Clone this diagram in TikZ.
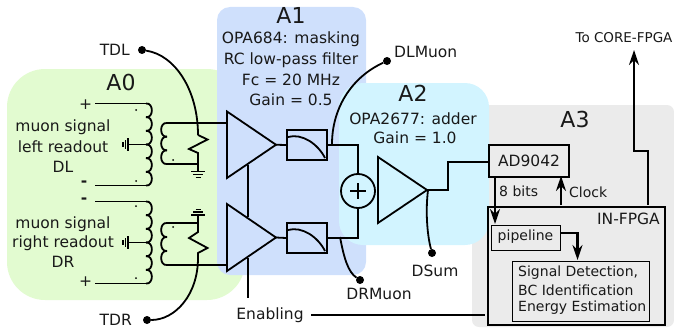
\documentclass[tikz,border=0pt]{standalone}
\usepackage{fontspec}
\setmainfont{DejaVu Sans}
\usetikzlibrary{arrows.meta}
\definecolor{zoneA}{HTML}{E2FBD0}
\definecolor{zoneB}{HTML}{CFE0FC}
\definecolor{zoneC}{HTML}{D2F4FF}
\definecolor{zoneD}{HTML}{EBEBEB}
\tikzset{
  wire/.style={line width=1.8pt,line join=miter},
  heavy/.style={line width=2.2pt,-{Stealth[length=15pt,width=10pt,inset=5pt]}},
  zone/.style={rounded corners=#1,draw=none},
  txt/.style={font=\fontsize{15.5}{18}\selectfont,inner sep=0pt,text=black!90},
  smalltxt/.style={font=\fontsize{14}{16}\selectfont,inner sep=0pt,text=black!90},
  titletxt/.style={font=\fontsize{22}{25}\selectfont,inner sep=0pt,text=black!90},
  testpt/.style={circle,fill=black,inner sep=0pt,minimum size=8pt},
  pol/.style={circle,fill=black,inner sep=0pt,minimum size=2pt},
  blockbox/.style={draw,line width=2pt,inner sep=0pt,anchor=north west},
  subbox/.style={draw,line width=1.1pt,inner sep=0pt,anchor=north west},
}
\newcommand{\coilshape}[5]{%
  \foreach \k in {1,...,#3}{%
    \draw[wire] (#1,{#2+(\k-1)*#4}) .. controls ({#1+#5*1.3},{#2+(\k-1)*#4-1}) and ({#1+#5*1.3},{#2+\k*#4+1}) .. (#1,{#2+\k*#4});
  }}
\newcommand{\amp}[4]{%
  \coordinate (#1in) at (#2,{(#3+#4)/2});
  \coordinate (#1out) at ({#2+49},{(#3+#4)/2});
  \draw[wire,line join=miter,miter limit=10] (#2,#3) -- (#1out) -- (#2,#4) -- cycle;}
\newcommand{\lowpass}[1]{%
  \draw[wire] ([xshift=2pt,yshift=-8pt]#1.north west) .. controls +(14,-4) and +(-7,-14) .. ([xshift=-3pt,yshift=3pt]#1.south east);}
\begin{document}
\begin{tikzpicture}[x=1pt,y=-1pt]
\useasboundingbox (0,0) rectangle (674,329);
% zones
\fill[zoneA,zone=38pt] (7,69) rectangle (245,300);
\fill[zoneD,zone=7pt] (472,105) rectangle (674,327);
\fill[zoneB,zone=13pt] (217,7) rectangle (366,275);
\fill[zoneC,zone=24pt] (339,83) rectangle (489,245);
% zone titles
\node[titletxt] (tA0) at (121,82) {A0};
\node[titletxt] (tA1) at (291,15) {A1};
\node[titletxt] (tA2) at (413,93) {A2};
\node[titletxt] (tA3) at (575,119) {A3};
\node[txt] (d1a) at (291,39) {OPA684: masking};
\node[txt] (d1b) at (291,60) {RC low-pass filter};
\node[txt] (d1c) at (291,80) {Fc = 20 MHz};
\node[txt] (d1d) at (291,100) {Gain = 0.5};
\node[txt] (d2a) at (413,119) {OPA2677: adder};
\node[txt] (d2b) at (415,138) {Gain = 1.0};
% readout labels
\node[txt] (l1a) at (63,127) {muon signal};
\node[txt] (l1b) at (63,147) {left readout};
\node[txt] (l1c) at (63,167) {DL};
\node[txt] (l2a) at (63,224) {muon signal};
\node[txt] (l2b) at (63,243) {right readout};
\node[txt] (l2c) at (63,262) {DR};
\node[txt] (p1) at (85.5,105) {+};
\node[txt] (m1) at (84,184) {\textbf{-}};
\node[txt] (m2) at (84,201) {\textbf{-}};
\node[txt] (p2) at (85.5,282) {+};
% primary coils
\coordinate (c1t) at (146,103.5); \coordinate (c1m) at (146,144.5); \coordinate (c1b) at (146,185.5);
\coordinate (c2t) at (146,201.5); \coordinate (c2m) at (146,242.5); \coordinate (c2b) at (146,283.5);
\coordinate (w1) at (95,103.5); \coordinate (w2) at (95,185.5); \coordinate (w3) at (95,201.5); \coordinate (w4) at (95,283.5);
\draw[wire] (w1) -- (c1t);
\draw[wire] (w2) -- (c1b);
\draw[wire] (w3) -- (c2t);
\draw[wire] (w4) -- (c2b);
\coilshape{146}{103.5}{6}{13.67}{6}
\coilshape{146}{201.5}{6}{13.67}{6}
% tap grounds
\coordinate (g1) at (128,144.5); \coordinate (g2) at (128,242.5);
\draw[wire] (c1m) -- (g1);
\draw[wire] (c2m) -- (g2);
\foreach \y in {144.5,242.5}{
  \draw[wire] (128,\y-6.5) -- (128,\y+6.5);
  \draw[wire] (125.5,\y-4.5) -- (125.5,\y+4.5);
  \draw[wire] (123,\y-2.5) -- (123,\y+2.5);
}
% secondary coils
\coordinate (s1t) at (167,123); \coordinate (s1b) at (167,164);
\coordinate (s2t) at (167,223); \coordinate (s2b) at (167,265);
\coilshape{167}{123}{3}{13.67}{-6}
\coilshape{167}{223}{3}{14}{-6}
% polarity dots
\node[pol] (dot1) at (136,110) {};
\node[pol] (dot2) at (136,181) {};
\node[pol] (dot3) at (173,160) {};
\node[pol] (dot4) at (136,206) {};
\node[pol] (dot5) at (136,278) {};
\node[pol] (dot6) at (173,227) {};
% amplifiers
\amp{ampa}{227}{111.5}{178}
\amp{ampb}{227}{204}{271}
\amp{ampc}{378}{157}{223}
% resistors
\coordinate (r1t) at (198,135); \coordinate (r2b) at (198,258);
\coordinate (r2t) at (198,232);
\coordinate (gr1) at (198,171); \coordinate (gr2) at (198,215);
\coordinate (a1) at (227,123); \coordinate (a2) at (227,265);
\draw[wire] (r1t) -- (207.5,139.5) -- (189,149) -- (198,153) -- (198,164);
\draw[wire] (gr2) -- (r2t) -- (189,238) -- (207.5,248) -- (198,253) -- (r2b);
\draw[wire] (s1t) -- (a1);
\draw[wire] (s1b) -- (198,164) -- (gr1);
\draw[wire] (s2t) -- (198,223);
\draw[wire] (s2b) -- (a2);
\draw[wire] (191,171.5) -- (205,171.5) (193,174.5) -- (203,174.5) (195.5,177.5) -- (200.5,177.5);
\draw[wire] (191,215) -- (205,215) (193,212) -- (203,212) (195.5,209.5) -- (200.5,209.5);
% test points
\node[testpt] (tdlp) at (142,50) {};
\node[testpt] (tdrp) at (147,320) {};
\node[testpt] (dlp) at (387,61) {};
\node[testpt] (drp) at (360,280) {};
\node[testpt] (dsp) at (432,253) {};
\node[txt,anchor=east] (tdl) at (130,50) {TDL};
\node[txt,anchor=east] (tdr) at (132,320) {TDR};
\node[txt,anchor=west] (dlt) at (394,52) {DLMuon};
\node[txt] (drt) at (379,294) {DRMuon};
\node[txt] (dst) at (435,271) {DSum};
\draw[wire] (tdlp) .. controls (175,55) and (198,90) .. (r1t);
\draw[wire] (tdrp) .. controls (175,320) and (198,295) .. (r2b);
% filters
\node[blockbox,minimum width=40pt,minimum height=30pt] (fa) at (286,129) {};
\node[blockbox,minimum width=40pt,minimum height=30pt] (fb) at (286,222) {};
\lowpass{fa}
\lowpass{fb}
\node[draw,circle,line width=1.8pt,minimum size=34pt,inner sep=0pt] (sum) at (358,191) {};
\draw[wire] (sum.center)++(-8,0) -- ++(16,0);
\draw[wire] (sum.center)++(0,-8) -- ++(0,16);
\draw[wire] (ampaout) -- (fa.west);
\draw[wire] (ampbout) -- (fb.west);
\draw[wire] (fa.east) -| (sum.north);
\draw[wire] (fb.east) -| (sum.south);
\coordinate (fat) at (332,144); \coordinate (fbt) at (340,237); \coordinate (act) at (428,190);
\draw[wire] (dlp) .. controls (350,78) and (332,110) .. (fat);
\draw[wire] (fbt) .. controls (344,258) and (348,272) .. (drp);
\draw[wire] (act) .. controls (425,215) and (428,238) .. (dsp);
% enable
\coordinate (en1) at (248,165); \coordinate (en2) at (248,217); \coordinate (en3) at (248,258); \coordinate (en4) at (248,298);
\draw[wire] (en1) -- (en2);
\draw[wire] (en3) -- (en4);
\node[txt] (ent) at (270,315) {Enabling};
% A3
\node[blockbox,minimum width=80pt,minimum height=32pt] (adc) at (488,143.5) {};
\node[txt] (adct) at (adc.center) {AD9042};
\node[blockbox,minimum width=177pt,minimum height=118pt] (fpga) at (487,205.5) {};
\node[txt,anchor=east] (fpt) at (660,219) {IN-FPGA};
\node[subbox,minimum width=69pt,minimum height=25pt] (pipe) at (491,225) {};
\node[smalltxt] (pipet) at (525.5,237) {pipeline};
\node[subbox,minimum width=137pt,minimum height=60pt] (sig) at (512,261) {};
\node[smalltxt,anchor=west] (s1) at (518,273) {Signal Detection,};
\node[smalltxt,anchor=west] (s2) at (518,290) {BC Identification};
\node[smalltxt,anchor=west] (s3) at (518,308) {Energy Estimation};
\node[smalltxt,anchor=west] (bits) at (499,191) {8 bits};
\node[smalltxt,anchor=west] (clk) at (569,192) {Clock};
\node[font=\fontsize{13.5}{15}\selectfont,inner sep=0pt,text=black!90] (core) at (624,38) {To CORE-FPGA};
\coordinate (c1) at (448,190); \coordinate (c2) at (448,162);
\draw[wire] (ampcout) -- (c1) -- (c2) -- (c2 -| adc.west);
\coordinate (a8) at (495,176); \coordinate (p8) at (495,224);
\draw[heavy] (a8) -- (p8);
\coordinate (ck1) at (561,205); \coordinate (ck2) at (561,176);
\draw[heavy] (ck1) -- (ck2);
\coordinate (po) at (560,233); \coordinate (si) at (577.5,260);
\draw[heavy] (po) -| (si);
\coordinate (cf) at (648,205); \coordinate (cu) at (634,50);
\coordinate (b1) at (648,151); \coordinate (b2) at (634,151);
\draw[heavy] (cf) -- (b1) -- (b2) -- (cu);
\coordinate (enl) at (311,315); \coordinate (enr) at (485,315);
\draw[wire] (enl) -- (enr);
\end{tikzpicture}
\end{document}
